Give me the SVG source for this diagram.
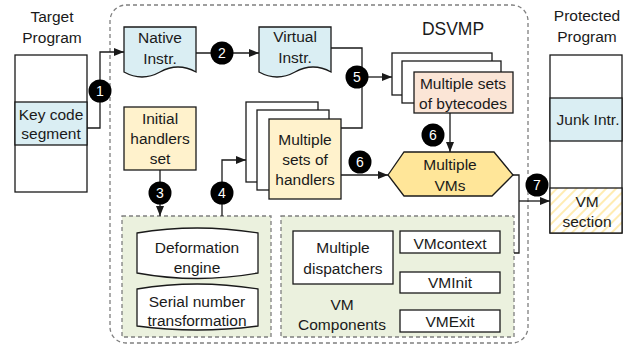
<svg xmlns="http://www.w3.org/2000/svg" width="636" height="348" viewBox="0 0 636 348">
<style>
text{font-family:"Liberation Sans",Arial,sans-serif;font-size:15.5px;fill:#1a1a1a;text-anchor:middle}
.box{stroke:#1a1a1a;stroke-width:1.3}
.dash{stroke:#7f7f7f;stroke-width:1.3;stroke-dasharray:4 3;fill:none}
.line{fill:none;stroke:#1a1a1a;stroke-width:1.3}
.arrow{fill:none;stroke:#1a1a1a;stroke-width:1.3;marker-end:url(#ah)}
.num circle{fill:#000}
.num text{fill:#fff;font-size:14px}
.blue{fill:#daeef3}
.yel{fill:#fff2cc}
.peach{fill:#fbe5d6}
.w{fill:#fff}
</style>
<defs>
<pattern id="hatch" width="7" height="7" patternUnits="userSpaceOnUse" patternTransform="rotate(45)">
<rect width="7" height="7" fill="#fff"/>
<line x1="2" y1="0" x2="2" y2="7" stroke="#fbdcc6" stroke-width="1.5"/>
</pattern>
<pattern id="yhatch" width="7" height="7" patternUnits="userSpaceOnUse" patternTransform="rotate(45)">
<rect width="7" height="7" fill="#fff"/>
<line x1="2" y1="0" x2="2" y2="7" stroke="#ffe699" stroke-width="1.5"/>
</pattern>
<marker id="ah" markerWidth="10" markerHeight="8" refX="10" refY="4" orient="auto" markerUnits="userSpaceOnUse">
<path d="M0,0 L10,4 L0,8 Z" fill="#1a1a1a"/>
</marker>
</defs>

<g id="dsvmp">
<rect x="110" y="5" width="418" height="338" rx="16" fill="url(#hatch)" class="dash"/>
<text x="453" y="35" style="font-size:17.5px">DSVMP</text>
</g>

<g id="target-program">
<text x="52" y="22">Target</text>
<text x="52" y="43">Program</text>
<rect x="15" y="55" width="72" height="137" class="box w"/>
<rect x="15" y="102" width="72" height="43" class="box blue"/>
<text x="51" y="120">Key code</text>
<text x="51" y="139">segment</text>
</g>

<g id="native-instr">
<path d="M124,27 H196 V72 Q178,62 160,72 Q142,82 124,72 Z" class="box blue"/>
<text x="160" y="43">Native</text>
<text x="160" y="64">Instr.</text>
</g>

<g id="virtual-instr">
<path d="M259,27 H331 V72 Q313,62 295,72 Q277,82 259,72 Z" class="box blue"/>
<text x="295" y="42">Virtual</text>
<text x="295" y="63">Instr.</text>
</g>

<g id="initial-handlers">
<rect x="124" y="107" width="72" height="63" class="box yel"/>
<text x="160" y="124">Initial</text>
<text x="160" y="144">handlers</text>
<text x="160" y="164">set</text>
</g>

<g id="handlers-sets">
<rect x="246" y="102" width="72" height="80" class="box w"/>
<rect x="257" y="110" width="72" height="80" class="box w"/>
<rect x="269" y="119" width="72" height="80" class="box yel"/>
<text x="305" y="145">Multiple</text>
<text x="305" y="165">sets of</text>
<text x="305" y="185">handlers</text>
</g>

<g id="bytecodes-sets">
<rect x="392" y="53" width="100" height="42" class="box w"/>
<rect x="402" y="61" width="99" height="42" class="box w"/>
<rect x="414" y="72" width="99" height="41" class="box peach"/>
<text x="463" y="89">Multiple sets</text>
<text x="463" y="109">of bytecodes</text>
</g>

<g id="multiple-vms">
<polygon points="388,175 404,152 494,152 513,175 492,196 404,196" class="box" fill="#ffe699"/>
<text x="450" y="170">Multiple</text>
<text x="450" y="191">VMs</text>
</g>

<g id="deformation-group">
<rect x="122" y="216" width="149" height="121" class="dash" style="fill:#ebf1de"/>
<g id="deformation-engine">
<path d="M137,233 Q197,223 258,233 V273 Q197,284 137,273 Z" class="box w"/>
<text x="197" y="253">Deformation</text>
<text x="197" y="273">engine</text>
</g>
<g id="serial-number">
<path d="M137,289 Q197,279 258,289 V326 Q197,334 137,326 Z" class="box w"/>
<text x="197" y="307">Serial number</text>
<text x="197" y="326">transformation</text>
</g>
</g>

<g id="vm-components">
<rect x="281" y="216" width="233" height="121" class="dash" style="fill:#ebf1de"/>
<text x="342" y="310">VM</text>
<text x="342" y="330">Components</text>
<g id="dispatchers">
<rect x="293" y="231" width="100" height="53" class="box w"/>
<text x="343" y="253">Multiple</text>
<text x="343" y="274">dispatchers</text>
</g>
<g id="vmcontext">
<rect x="400" y="231" width="100" height="22" class="box w"/>
<text x="450" y="249">VMcontext</text>
</g>
<g id="vminit">
<rect x="400" y="272" width="100" height="21" class="box w"/>
<text x="450" y="288">VMInit</text>
</g>
<g id="vmexit">
<rect x="400" y="310" width="100" height="22" class="box w"/>
<text x="450" y="327">VMExit</text>
</g>
</g>

<g id="protected-program">
<text x="587" y="21">Protected</text>
<text x="587" y="42">Program</text>
<rect x="550" y="55" width="72" height="178" class="box w"/>
<rect x="550" y="98" width="72" height="43" class="box blue"/>
<text x="588" y="125">Junk Intr.</text>
<rect x="550" y="188" width="72" height="45" class="box" fill="url(#yhatch)"/>
<text x="587" y="207">VM</text>
<text x="587" y="227">section</text>
</g>

<g id="connectors">
<path d="M87,128 H100 V52 H124" class="arrow"/>
<path d="M196,53 H259" class="arrow"/>
<path d="M341,128 H362 V48 H331" class="line"/>
<path d="M362,77 H392" class="arrow"/>
<path d="M450,113 V152" class="arrow"/>
<path d="M341,175 H388" class="arrow"/>
<path d="M160,170 V216" class="arrow"/>
<path d="M222,216 V160 H246" class="arrow"/>
<path d="M514,253 H519 V175 H513" class="line"/>
<path d="M519,201 H550" class="arrow"/>
<g class="num">
<circle cx="100" cy="91" r="11.5"/><text x="100" y="96">1</text>
<circle cx="222" cy="53" r="11.5"/><text x="222" y="58">2</text>
<circle cx="160" cy="193" r="11.5"/><text x="160" y="198">3</text>
<circle cx="222" cy="193" r="11.5"/><text x="222" y="198">4</text>
<circle cx="357" cy="77" r="11.5"/><text x="357" y="82">5</text>
<circle cx="433" cy="135" r="11.5"/><text x="433" y="140">6</text>
<circle cx="360" cy="162" r="11.5"/><text x="360" y="167">6</text>
<circle cx="537" cy="185" r="11.5"/><text x="537" y="190">7</text>
</g>
</g>
</svg>
